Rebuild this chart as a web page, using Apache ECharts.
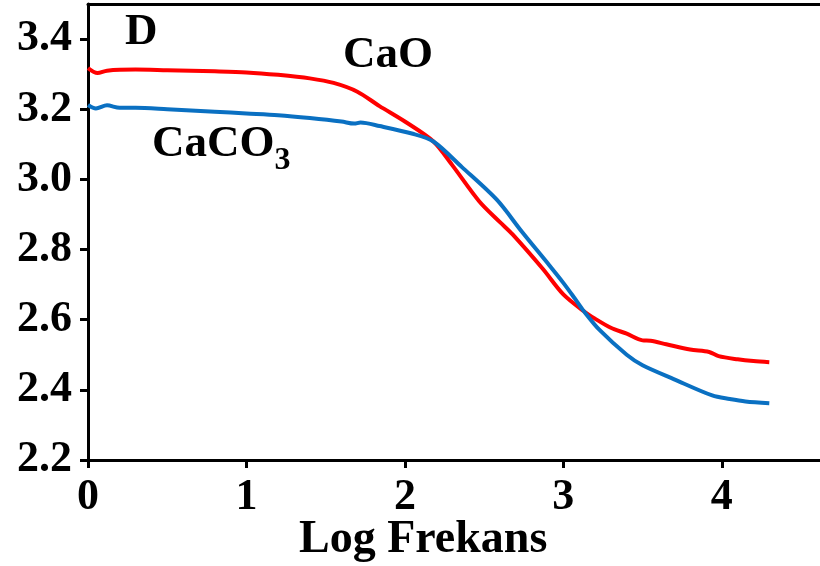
<!DOCTYPE html>
<html>
<head>
<meta charset="utf-8">
<script src="https://cdn.jsdelivr.net/npm/echarts@6/dist/echarts.min.js"></script>
<style>
  html, body { margin: 0; padding: 0; background: #fff; }
  #chart { width: 820px; height: 566px; }
</style>
</head>
<body>
<div id="chart"></div>
<script>
// Log frequency vs. log value for the two samples (panel D)
const caoX = [0, 0.06, 0.12, 0.3, 0.5, 0.8, 1.0, 1.2, 1.4, 1.55, 1.7, 1.84, 2.0, 2.18, 2.3, 2.47, 2.6, 2.68, 2.87, 3.0, 3.13, 3.2, 3.3, 3.4, 3.5, 3.55, 3.65, 3.8, 3.92, 3.98, 4.1, 4.2, 4.3];
const caoY = [3.317, 3.303, 3.31, 3.313, 3.311, 3.308, 3.305, 3.298, 3.288, 3.275, 3.25, 3.209, 3.165, 3.108, 3.04, 2.937, 2.878, 2.843, 2.745, 2.672, 2.624, 2.603, 2.577, 2.56, 2.541, 2.54, 2.53, 2.515, 2.508, 2.496, 2.487, 2.482, 2.479];

const caco3X = [0, 0.05, 0.12, 0.2, 0.3, 0.5, 0.8, 1.0, 1.2, 1.4, 1.6, 1.68, 1.72, 1.84, 2.05, 2.18, 2.36, 2.58, 2.74, 2.91, 3.0, 3.07, 3.13, 3.23, 3.4, 3.5, 3.7, 3.94, 4.05, 4.15, 4.3];
const caco3Y = [3.212, 3.202, 3.211, 3.204, 3.204, 3.2, 3.193, 3.188, 3.183, 3.175, 3.165, 3.159, 3.162, 3.152, 3.13, 3.108, 3.035, 2.942, 2.85, 2.756, 2.705, 2.662, 2.624, 2.57, 2.5, 2.47, 2.43, 2.384, 2.374, 2.367, 2.362];

const xTicks = [0, 1, 2, 3, 4];
const yTicks = [2.2, 2.4, 2.6, 2.8, 3.0, 3.2, 3.4];

const xTitle = 'Log Frekans';
const panelLabel = 'D';
const caoName = 'CaO';
const caco3Name = 'CaCO';

const serif = '"Liberation Serif", "Times New Roman", serif';

function pairs(xs, ys) {
  return xs.map((x, i) => [x, ys[i]]);
}

const chart = echarts.init(document.getElementById('chart'), null, { renderer: 'canvas' });

chart.setOption({
  animation: false,
  backgroundColor: '#ffffff',
  grid: { left: 88, right: 0, top: 4, bottom: 106, containLabel: false, outerBoundsMode: 'none' },
  xAxis: [
    {
      type: 'value',
      min: 0,
      max: 4.62,
      interval: 1,
      splitLine: { show: false },
      axisLine: { show: true, onZero: false, lineStyle: { color: '#000', width: 3 } },
      axisTick: { show: true, inside: false, length: 8, lineStyle: { color: '#000', width: 3 }, customValues: xTicks },
      axisLabel: {
        customValues: xTicks,
        margin: 16,
        color: '#000',
        fontFamily: serif,
        fontWeight: 'bold',
        fontSize: 44,
        formatter: v => String(Math.round(v))
      }
    },
    {
      type: 'value',
      position: 'top',
      min: 0,
      max: 4.62,
      axisLine: { show: true, onZero: false, lineStyle: { color: '#000', width: 3 } },
      axisTick: { show: false },
      axisLabel: { show: false },
      splitLine: { show: false }
    }
  ],
  yAxis: {
    type: 'value',
    min: 2.2,
    max: 3.5,
    interval: 0.2,
    splitLine: { show: false },
    axisLine: { show: true, onZero: false, lineStyle: { color: '#000', width: 3 } },
    axisTick: { show: true, inside: false, length: 8, lineStyle: { color: '#000', width: 3 }, customValues: yTicks },
    axisLabel: {
      customValues: yTicks,
      margin: 16,
      color: '#000',
      fontFamily: serif,
      fontWeight: 'bold',
      fontSize: 44,
      formatter: v => v.toFixed(1)
    }
  },
  series: [
    {
      name: caoName,
      type: 'line',
      xAxisIndex: 0,
      data: pairs(caoX, caoY),
      smooth: 0.3,
      showSymbol: false,
      lineStyle: { color: '#ff0000', width: 4 }
    },
    {
      name: 'CaCO3',
      type: 'line',
      xAxisIndex: 0,
      data: pairs(caco3X, caco3Y),
      smooth: 0.3,
      showSymbol: false,
      lineStyle: { color: '#0a70c2', width: 4 }
    }
  ],
  graphic: [
    {
      type: 'text',
      left: 125,
      top: 10,
      style: { text: panelLabel, fill: '#000', font: 'bold 45px ' + serif }
    },
    {
      type: 'text',
      left: 343,
      top: 33,
      style: { text: caoName, fill: '#000', font: 'bold 45px ' + serif }
    },
    {
      type: 'text',
      left: 152,
      top: 122,
      style: {
        text: '{m|' + caco3Name + '}{s|3}',
        rich: {
          m: { fill: '#000', fontFamily: serif, fontWeight: 'bold', fontSize: 45, verticalAlign: 'bottom' },
          s: { fill: '#000', fontFamily: serif, fontWeight: 'bold', fontSize: 32, verticalAlign: 'bottom', padding: [0, 0, -10, 0] }
        }
      }
    },
    {
      type: 'text',
      left: 299,
      top: 517,
      style: { text: xTitle, fill: '#000', font: 'bold 46px ' + serif }
    }
  ]
});
</script>
</body>
</html>
